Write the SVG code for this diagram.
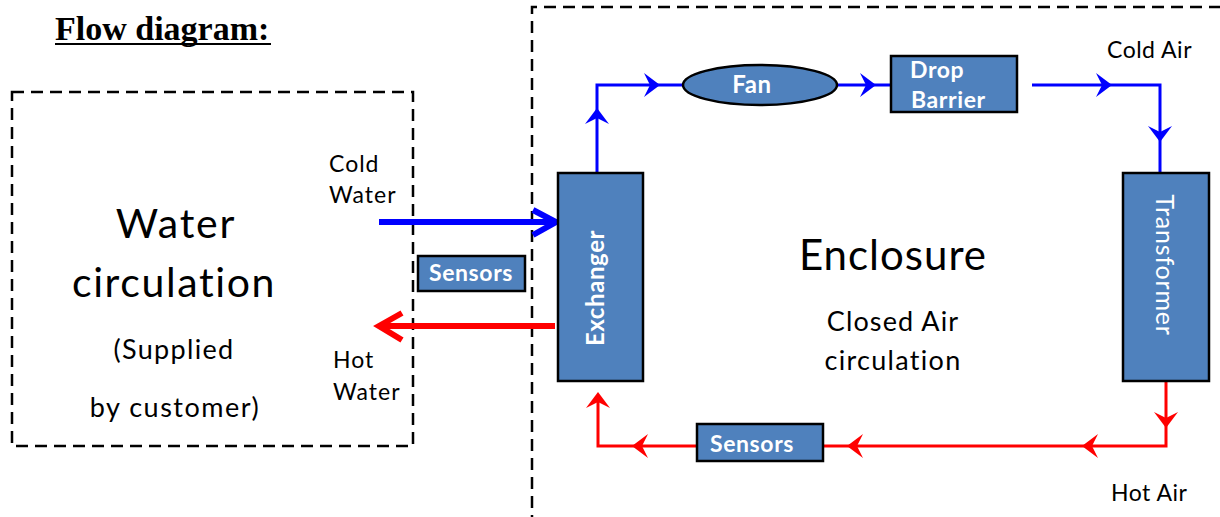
<svg xmlns="http://www.w3.org/2000/svg" xmlns:xlink="http://www.w3.org/1999/xlink" width="1220" height="517" viewBox="0 0 1220 517">
<style>
.box{fill:#4F81BD;stroke:#000;stroke-width:2.5}
.dash{fill:none;stroke:#000;stroke-width:2.5;stroke-dasharray:12 7}
.lbl{font-family:Lato,"Open Sans",sans-serif;fill:#000}
.wt{font-family:Lato,"Open Sans",sans-serif;font-weight:bold;fill:#fff;font-size:23px;letter-spacing:0.6px}
.bl{fill:none;stroke:#0000FF;stroke-width:3}
.rl{fill:none;stroke:#FF0000;stroke-width:3}
.ba{fill:#0000FF}
.ra{fill:#FF0000}
</style>
<defs>
<path id="ah" d="M0,0 L-16,-12 L-10,0 L-16,12 Z"/>
</defs>
<rect width="1220" height="517" fill="#fff"/>
<g id="title">
<text x="55" y="40" style="font-family:'Liberation Serif',serif;font-weight:bold;font-size:34px">Flow diagram:</text>
<line x1="55" y1="44" x2="271" y2="44" stroke="#000" stroke-width="2"/>
</g>
<g id="water-circulation">
<path class="dash" d="M12,92 H413 V446 H12 Z"/>
<text class="lbl" x="176" y="238" text-anchor="middle" font-size="41" letter-spacing="1.8">Water</text>
<text class="lbl" x="174" y="297" text-anchor="middle" font-size="41" letter-spacing="1.6">circulation</text>
<text class="lbl" x="174" y="359" text-anchor="middle" font-size="27" letter-spacing="1.3">(Supplied</text>
<text class="lbl" x="175" y="417" text-anchor="middle" font-size="27" letter-spacing="1.5">by customer)</text>
</g>
<g id="enclosure">
<path class="dash" d="M532,1230 V7 H1230"/>
<text class="lbl" x="893" y="270" text-anchor="middle" font-size="42" letter-spacing="1">Enclosure</text>
<text class="lbl" x="893" y="331" text-anchor="middle" font-size="27" letter-spacing="1.1">Closed Air</text>
<text class="lbl" x="893" y="370" text-anchor="middle" font-size="27" letter-spacing="1.3">circulation</text>
</g>
<g id="connectors">
<polyline class="bl" points="597,173 597,85 683,85"/>
<line class="bl" x1="837" y1="85" x2="890" y2="85"/>
<polyline class="bl" points="1032,85 1160,85 1160,173"/>
<use href="#ah" class="ba" transform="translate(597,108) rotate(-90)"/>
<use href="#ah" class="ba" transform="translate(660,85)"/>
<use href="#ah" class="ba" transform="translate(876,85)"/>
<use href="#ah" class="ba" transform="translate(1112,85)"/>
<use href="#ah" class="ba" transform="translate(1160,142) rotate(90)"/>
<polyline class="rl" points="1166,381 1166,446 823,446"/>
<polyline class="rl" points="697,446 598,446 598,396"/>
<use href="#ah" class="ra" transform="translate(1166,428) rotate(90)"/>
<use href="#ah" class="ra" transform="translate(1082,446) rotate(180)"/>
<use href="#ah" class="ra" transform="translate(847,446) rotate(180)"/>
<use href="#ah" class="ra" transform="translate(632,446) rotate(180)"/>
<use href="#ah" class="ra" transform="translate(598,392) rotate(-90)"/>
<line x1="379" y1="222" x2="553" y2="222" stroke="#0000FF" stroke-width="6"/>
<polyline points="533,210 556,222 533,235" fill="none" stroke="#0000FF" stroke-width="6"/>
<line x1="382" y1="326" x2="555" y2="326" stroke="#FF0000" stroke-width="6"/>
<polyline points="402,313 379,326 402,340" fill="none" stroke="#FF0000" stroke-width="6"/>
</g>
<g id="labels">
<text class="lbl" x="329" y="172" font-size="23" letter-spacing="1">Cold</text>
<text class="lbl" x="329" y="203" font-size="23" letter-spacing="1">Water</text>
<text class="lbl" x="333" y="368" font-size="23" letter-spacing="1">Hot</text>
<text class="lbl" x="333" y="400" font-size="23" letter-spacing="1">Water</text>
<text class="lbl" x="1107" y="58" font-size="23" letter-spacing="0.5">Cold Air</text>
<text class="lbl" x="1111" y="501" font-size="23" letter-spacing="0.5">Hot Air</text>
</g>
<g id="exchanger">
<rect class="box" x="558" y="173" width="85" height="208"/>
<text class="wt" text-anchor="middle" transform="translate(604,288) rotate(-90)" style="font-size:24px">Exchanger</text>
</g>
<g id="transformer">
<rect class="box" x="1123" y="173" width="86" height="208"/>
<text class="wt" text-anchor="middle" transform="translate(1156,265) rotate(90)" style="font-weight:normal;font-size:25px;letter-spacing:0.8px">Transformer</text>
</g>
<g id="fan">
<ellipse class="box" cx="760" cy="85" rx="77" ry="20"/>
<text class="wt" x="752" y="93" text-anchor="middle" style="font-size:24px">Fan</text>
</g>
<g id="drop-barrier">
<rect class="box" x="891" y="56" width="126" height="56"/>
<text class="wt" x="910" y="78">Drop</text>
<text class="wt" x="911" y="108">Barrier</text>
</g>
<g id="sensors-water">
<rect class="box" x="418" y="256" width="107" height="35"/>
<text class="wt" x="471" y="281" text-anchor="middle">Sensors</text>
</g>
<g id="sensors-air">
<rect class="box" x="697" y="424" width="126" height="37"/>
<text class="wt" x="752" y="452" text-anchor="middle">Sensors</text>
</g>
</svg>
